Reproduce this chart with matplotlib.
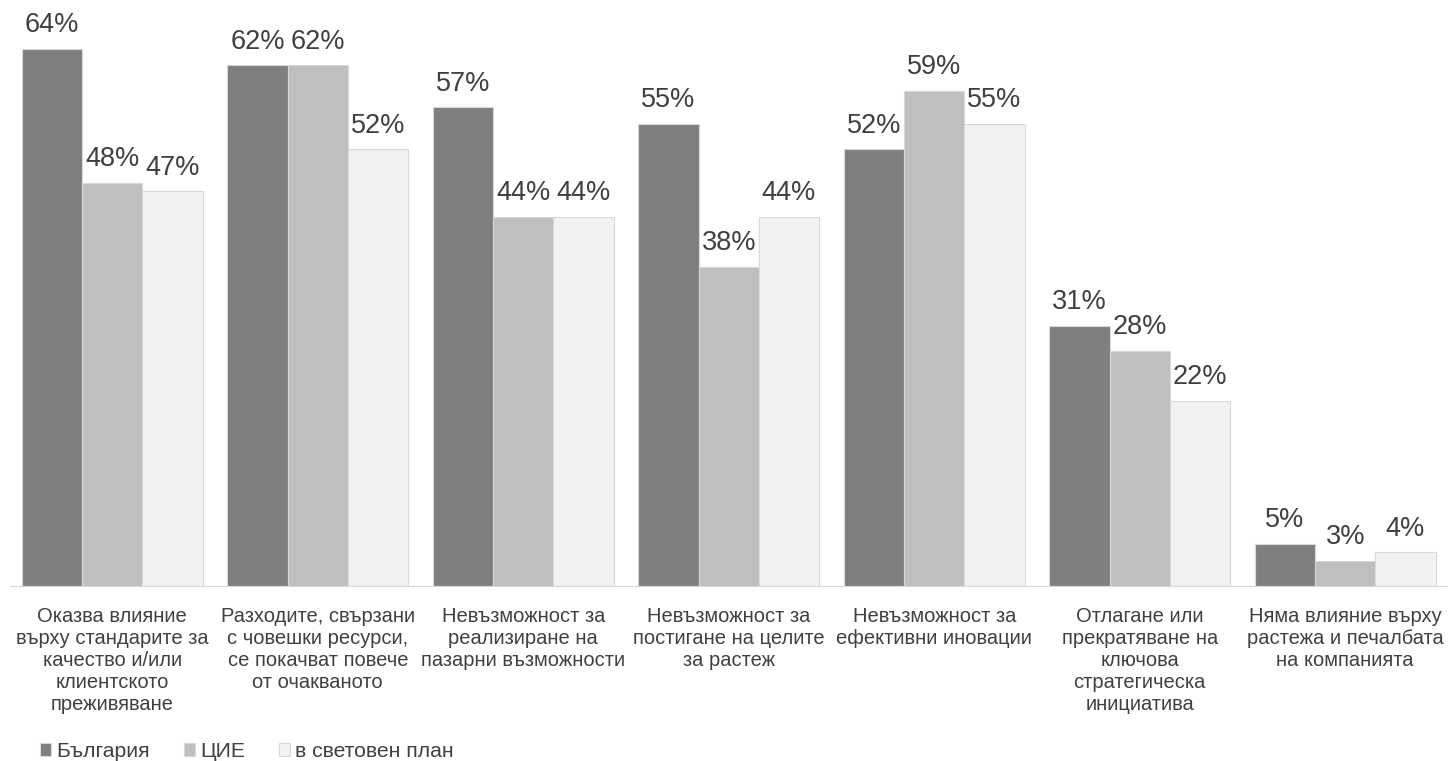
import numpy as np
import matplotlib.pyplot as plt

plt.rcParams['font.family'] = ['Liberation Sans', 'DejaVu Sans']

# категории и стойности (%)
categories = [
    "Оказва влияние\nвърху стандарите за\nкачество и/или\nклиентското\nпреживяване",
    "Разходите, свързани\nс човешки ресурси,\nсе покачват повече\nот очакваното",
    "Невъзможност за\nреализиране на\nпазарни възможности",
    "Невъзможност за\nпостигане на целите\nза растеж",
    "Невъзможност за\nефективни иновации",
    "Отлагане или\nпрекратяване на\nключова\nстратегическа\nинициатива",
    "Няма влияние върху\nрастежа и печалбата\nна компанията",
]
series_names = ["България", "ЦИЕ", "в световен план"]
bulgaria = [64, 62, 57, 55, 52, 31, 5]
cee = [48, 62, 44, 38, 59, 28, 3]
world = [47, 52, 44, 44, 55, 22, 4]

colors = ['#7f7f7f', '#bfbfbf', '#f2f2f2']
text_color = '#404040'

fig = plt.figure(figsize=(14.48, 7.61), dpi=100)
ax = fig.add_axes([9.5 / 1448, 175 / 761, 1438.5 / 1448, 586 / 761])

x = np.arange(len(categories))
w = 0.293
for i, (vals, name) in enumerate(zip([bulgaria, cee, world], series_names)):
    pos = x + (i - 1) * w
    bars = ax.bar(pos, vals, width=w, color=colors[i], edgecolor='#d9d9d9',
                  linewidth=0.8, label=name)
    for b, v in zip(bars, vals):
        ax.text(b.get_x() + b.get_width() / 2, v + 1.3, f"{v}%",
                ha='center', va='bottom', fontsize=19.5, color=text_color)

ax.set_xlim(-0.5, len(categories) - 0.5)
ax.set_ylim(0, 69.8)
ax.set_xticks(x)
ax.set_xticklabels(categories, fontsize=14.5, color=text_color, linespacing=1.2)
ax.tick_params(axis='x', length=0, pad=15)
ax.set_yticks([])
for s in ['top', 'right', 'left']:
    ax.spines[s].set_visible(False)
ax.spines['bottom'].set_color('#d9d9d9')

leg = fig.legend(loc='lower left', bbox_to_anchor=(0.0144, -0.025), ncol=3,
                 frameon=False, fontsize=15.2, handlelength=0.55,
                 handleheight=0.55, handletextpad=0.25, columnspacing=1.57)
for t in leg.get_texts():
    t.set_color(text_color)

fig.savefig('out.png', dpi=100)
